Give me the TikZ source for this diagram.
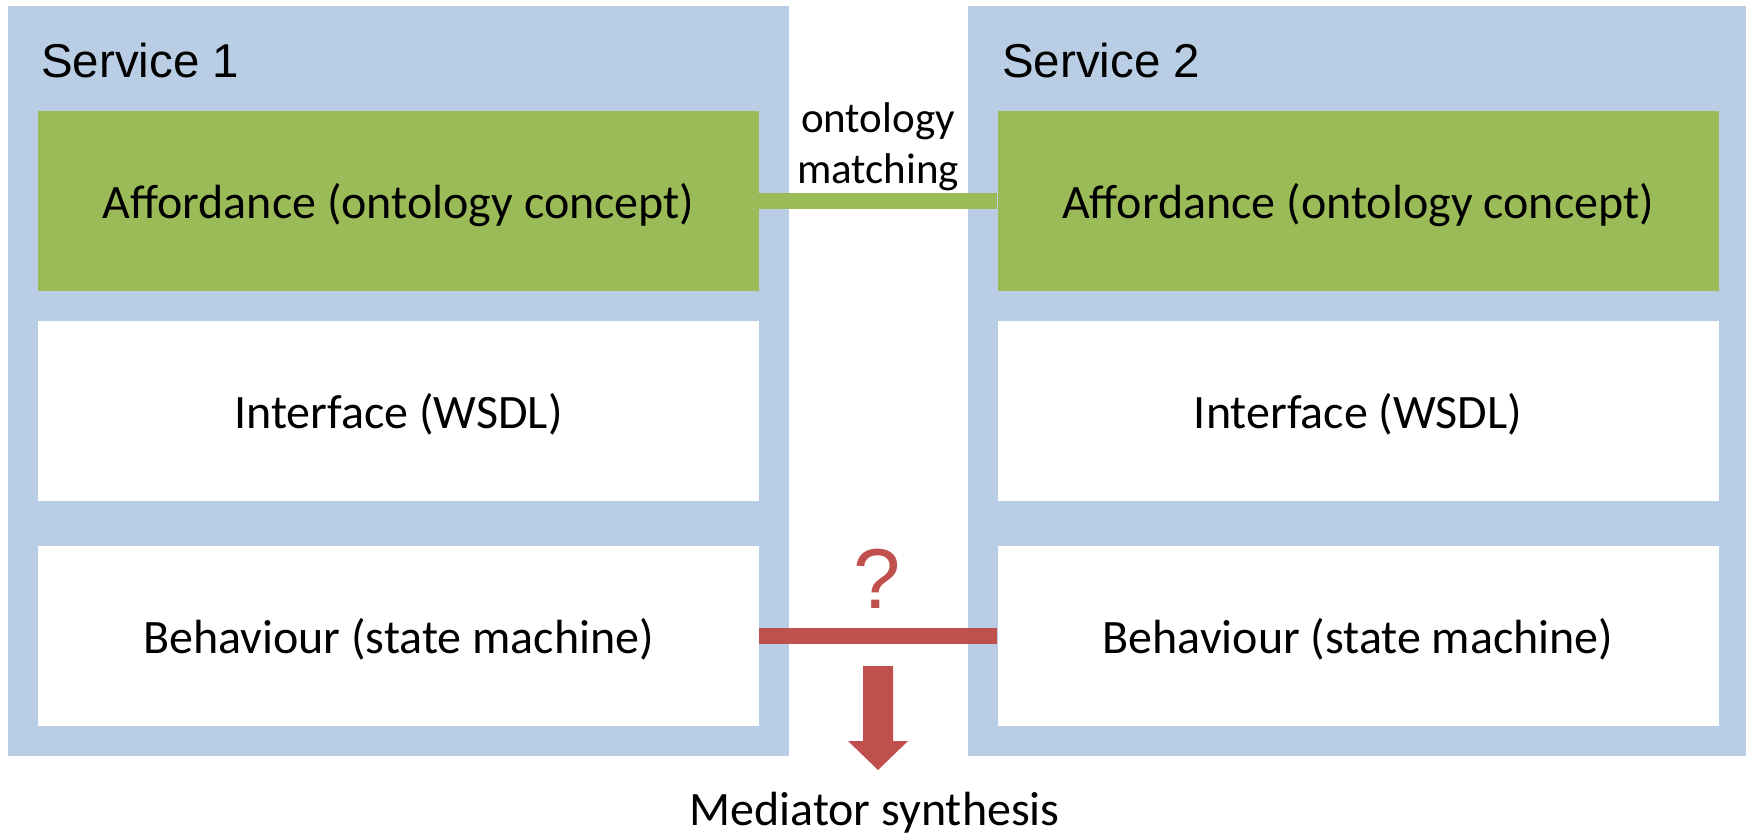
\documentclass[tikz,border=0pt]{standalone}
\usepackage{fontspec}
\setmainfont{Carlito}
\newfontfamily\arialfont{Liberation Sans}
\definecolor{panelblue}{HTML}{B9CDE5}
\definecolor{affgreen}{HTML}{9BBB59}
\definecolor{medred}{HTML}{C0504D}
\begin{document}
\begin{tikzpicture}[x=1pt,y=-1pt,
  panel/.style={fill=panelblue, draw=none, inner sep=0pt, anchor=north west},
  layer/.style={draw=none, inner sep=0pt, minimum width=721pt, minimum height=180pt,
                text height=40pt, text depth=6pt,
                font=\fontsize{48}{57}\selectfont},
  afflayer/.style={layer, fill=affgreen},
  plainlayer/.style={layer, fill=white},
  title/.style={anchor=base west, inner sep=0pt, font=\arialfont\fontsize{47.5}{56}\selectfont},
  link/.style={line width=16pt},
]
\useasboundingbox (0,0) rectangle (1753,835);

% service panels
\node[panel, minimum width=781pt, minimum height=750pt] (s1) at (8,6) {};
\node[panel, minimum width=778pt, minimum height=750pt] (s2) at (968,6) {};
\node[title] (t1) at (41,77) {Service 1};
\node[title] (t2) at (1002,77) {Service 2};

% layers of service 1
\node[afflayer]   (a1) at (398.5,201) {Affordance (ontology concept)};
\node[plainlayer] (i1) at (398.5,411) {Interface (WSDL)};
\node[plainlayer] (b1) at (398.5,636) {Behaviour (state machine)};

% layers of service 2
\node[afflayer]   (a2) at (1358,201) {Affordance (ontology concept)};
\node[plainlayer] (i2) at (1358,411) {Interface (WSDL)};
\node[plainlayer] (b2) at (1358,636) {Behaviour (state machine)};

% affordance matching link
\draw[link, affgreen] (a1.east) -- (a2.west);
\node[anchor=south, inner sep=0pt, align=center, font=\fontsize{43}{51}\selectfont]
  (om) at (878,191) {ontology\\matching};

% behaviour link with open question
\draw[link, medred] (b1.east) -- (b2.west);
\node[anchor=base, inner sep=0pt, text=medred, font=\arialfont\fontsize{85}{90}\selectfont]
  (q) at (877,608) {?};

% block arrow towards the mediator
\coordinate (arr) at (878,666);
\fill[medred] (arr) ++(-15,0) -- ++(30,0) -- ++(0,75) -- ++(15,0)
  -- (878,770) -- (848,741) -- (863,741) -- cycle;
\node[anchor=base, inner sep=0pt, font=\fontsize{48}{57}\selectfont]
  (med) at (874.5,825) {Mediator synthesis};
\end{tikzpicture}
\end{document}
